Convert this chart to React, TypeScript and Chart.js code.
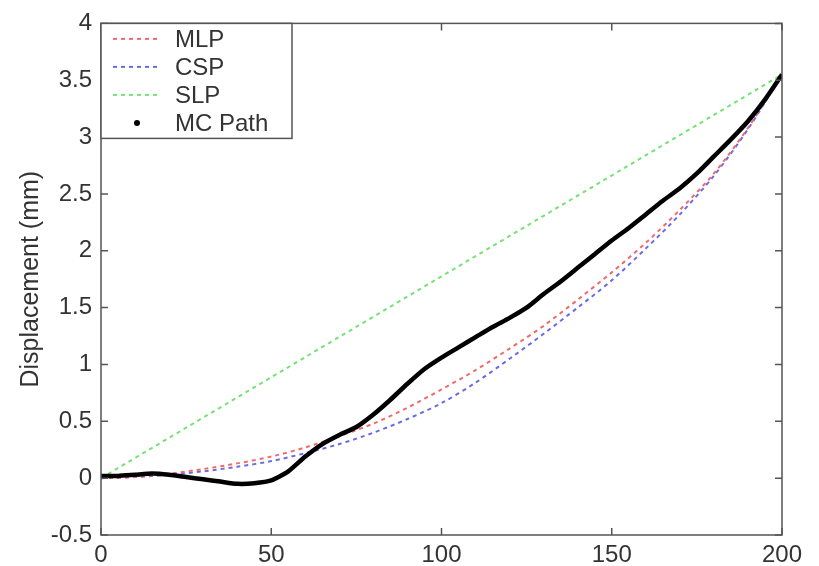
import React, { useEffect, useRef } from "react";
import { Chart, registerables } from "chart.js";

Chart.register(...registerables);

// ---- data ----
const xGrid = [0, 10, 20, 30, 40, 50, 60, 70, 80, 90, 100, 110, 120, 130, 140, 150, 160, 170, 180, 190, 200];
const mlpValues = [0, 0.01, 0.04, 0.08, 0.13, 0.19, 0.27, 0.37, 0.48, 0.62, 0.78, 0.95, 1.14, 1.34, 1.57, 1.81, 2.07, 2.36, 2.68, 3.08, 3.55];
const cspValues = [0, 0.01, 0.03, 0.06, 0.1, 0.15, 0.22, 0.3, 0.4, 0.52, 0.66, 0.84, 1.05, 1.27, 1.5, 1.74, 2.02, 2.32, 2.66, 3.07, 3.55];
const slpX = [0, 200];
const slpValues = [0, 3.55];
const mcX = [0, 5, 10, 15, 20, 25, 30, 35, 40, 45, 50, 55, 60, 65, 70, 75, 80, 85, 90, 95, 100, 105, 110, 115, 120, 125, 130, 135, 140, 145, 150, 155, 160, 165, 170, 175, 180, 185, 190, 195, 200];
const mcValues = [0.02, 0.02, 0.03, 0.04, 0.03, 0.01, -0.01, -0.03, -0.05, -0.045, -0.02, 0.06, 0.19, 0.3, 0.38, 0.45, 0.56, 0.69, 0.83, 0.96, 1.06, 1.15, 1.24, 1.33, 1.41, 1.5, 1.62, 1.73, 1.85, 1.97, 2.09, 2.2, 2.32, 2.44, 2.55, 2.68, 2.83, 2.98, 3.14, 3.33, 3.55];
const xTicks = [0, 50, 100, 150, 200];
const yTicks = [-0.5, 0, 0.5, 1, 1.5, 2, 2.5, 3, 3.5, 4];
const legendNames = ["MLP", "CSP", "SLP", "MC Path"];
const yTitle = "Displacement (mm)";

const FONT = "'Liberation Sans', Arial, sans-serif";
const TEXT = "#333333";
const AXIS = "#555555";
const colors = ["#f06a6a", "#6a6ae6", "#74e274", "#000000"];

const toPts = (xs: number[], ys: number[]) => xs.map((x, i) => ({ x, y: ys[i] }));

const framePlugin = {
  id: "frame",
  afterDatasetsDraw(chart: any) {
    const { ctx, chartArea: a, scales } = chart;
    const xs = scales.x;
    const ys = scales.y;
    ctx.save();
    ctx.strokeStyle = AXIS;
    ctx.lineWidth = 1.5;
    ctx.strokeRect(a.left, a.top, a.right - a.left, a.bottom - a.top);
    const tl = 7;
    ctx.beginPath();
    xTicks.forEach((v) => {
      const px = xs.getPixelForValue(v);
      ctx.moveTo(px, a.bottom);
      ctx.lineTo(px, a.bottom - tl);
      ctx.moveTo(px, a.top);
      ctx.lineTo(px, a.top + tl);
    });
    yTicks.forEach((v) => {
      const py = ys.getPixelForValue(v);
      ctx.moveTo(a.left, py);
      ctx.lineTo(a.left + tl, py);
      ctx.moveTo(a.right, py);
      ctx.lineTo(a.right - tl, py);
    });
    ctx.stroke();

    // legend
    const lx = a.left;
    const ly = a.top;
    const lw = 191;
    const lh = 115;
    ctx.fillStyle = "#ffffff";
    ctx.fillRect(lx, ly, lw, lh);
    ctx.strokeStyle = AXIS;
    ctx.lineWidth = 1.5;
    ctx.strokeRect(lx, ly, lw, lh);
    ctx.font = `24px ${FONT}`;
    ctx.textBaseline = "middle";
    ctx.textAlign = "left";
    legendNames.forEach((name, i) => {
      const cy = ly + 15.5 + i * 28;
      if (i < 3) {
        ctx.save();
        ctx.strokeStyle = colors[i];
        ctx.lineWidth = 2;
        ctx.setLineDash([4, 4]);
        ctx.beginPath();
        ctx.moveTo(lx + 12, cy);
        ctx.lineTo(lx + 57, cy);
        ctx.stroke();
        ctx.restore();
      } else {
        ctx.fillStyle = "#000";
        ctx.beginPath();
        ctx.arc(lx + 36, cy, 3, 0, Math.PI * 2);
        ctx.fill();
      }
      ctx.fillStyle = TEXT;
      ctx.fillText(name, lx + 74, cy + 1);
    });
    ctx.restore();
  },
};

export default function App() {
  const ref = useRef<HTMLCanvasElement | null>(null);
  useEffect(() => {
    if (!ref.current) return;
    const dashed = (label: string, data: any, color: string, order: number) => ({
      label,
      data,
      borderColor: color,
      backgroundColor: color,
      borderWidth: 2,
      borderDash: [4, 4],
      pointRadius: 0,
      fill: false,
      tension: 0.3,
      order,
    });
    const chart = new Chart(ref.current, {
      type: "line",
      data: {
        datasets: [
          { ...dashed(legendNames[0], toPts(xGrid, mlpValues), colors[0], 2) },
          { ...dashed(legendNames[1], toPts(xGrid, cspValues), colors[1], 3) },
          { ...dashed(legendNames[2], toPts(slpX, slpValues), colors[2], 4), tension: 0 },
          {
            label: legendNames[3],
            data: toPts(mcX, mcValues),
            borderColor: "#000",
            backgroundColor: "#000",
            borderWidth: 4.5,
            pointRadius: 0,
            fill: false,
            tension: 0.2,
            order: 0,
          },
        ],
      },
      options: {
        animation: false,
        responsive: false,
        devicePixelRatio: 1,
        layout: { padding: { left: 0, right: 37, top: 18, bottom: 0 } },
        plugins: { legend: { display: false }, tooltip: { enabled: false } },
        scales: {
          x: {
            type: "linear",
            min: 0,
            max: 200,
            grid: { display: false, drawTicks: false },
            border: { display: false },
            afterBuildTicks: (s: any) => {
              s.ticks = xTicks.map((v) => ({ value: v }));
            },
            afterFit: (s: any) => {
              s.height = 31;
            },
            ticks: {
              font: { family: FONT, size: 24 },
              color: TEXT,
              padding: 6,
              maxRotation: 0,
              callback: (v: any) => String(v),
            },
          },
          y: {
            type: "linear",
            min: -0.5,
            max: 4,
            grid: { display: false, drawTicks: false },
            border: { display: false },
            afterBuildTicks: (s: any) => {
              s.ticks = yTicks.map((v) => ({ value: v }));
            },
            afterFit: (s: any) => {
              s.width = 101;
            },
            ticks: {
              font: { family: FONT, size: 24 },
              color: TEXT,
              padding: 9,
              callback: (v: any) => String(v),
            },
            title: {
              display: true,
              text: yTitle,
              font: { family: FONT, size: 25 },
              color: TEXT,
              padding: { top: 16, bottom: 0 },
            },
          },
        },
      },
      plugins: [framePlugin],
    });
    return () => chart.destroy();
  }, []);
  return (
    <div style={{ position: "fixed", left: 0, top: 0, width: 819, height: 566, background: "#fff" }}>
      <canvas ref={ref} width={819} height={566} />
    </div>
  );
}
